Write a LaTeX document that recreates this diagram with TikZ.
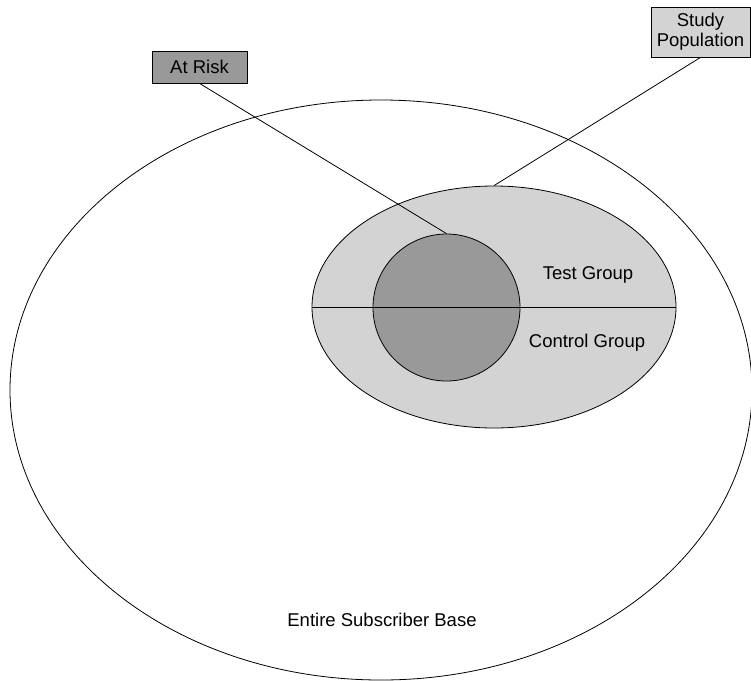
\documentclass[tikz,border=0pt]{standalone}
\usepackage{fontspec}
\setmainfont{Liberation Sans}
\usetikzlibrary{shapes.geometric}
\definecolor{lightg}{HTML}{D3D3D3}
\definecolor{darkg}{HTML}{999999}
\begin{document}
\begin{tikzpicture}[x=1pt,y=-1pt,
  outline/.style={draw=black,line width=0.8pt},
  oval/.style={outline,ellipse,inner sep=0pt},
  tag/.style={outline,rectangle,inner sep=0pt,font=\fontsize{18.5}{20}\selectfont,align=center},
  lbl/.style={font=\fontsize{18.5}{20}\selectfont,inner sep=0pt},
  link/.style={draw=black,line width=0.8pt}]
\useasboundingbox (0,0) rectangle (751,680);
\begin{scope}
\clip (0,0) rectangle (751,680);
\node[oval,minimum width=742pt,minimum height=580pt] (base) at (381,390) {};
\end{scope}
\node[oval,fill=lightg,minimum width=364pt,minimum height=242pt] (study) at (494,307) {};
\node[oval,circle,fill=darkg,minimum size=147pt] (risk) at (446.5,307.5) {};
\draw[link] (study.west) -- (study.east);
\node[tag,fill=darkg,minimum width=95pt,minimum height=32pt] (atrisk) at (199.5,67) {At Risk};
\node[tag,fill=lightg,minimum width=99pt,minimum height=50pt] (studypop) at (700.5,32) {Study\\Population};
\draw[link] (atrisk.south) -- (risk.north);
\draw[link] (studypop.south) -- (study.north);
\node[lbl] (test) at (588,275) {Test Group};
\node[lbl] (control) at (587,343) {Control Group};
\node[lbl] (entire) at (382,620) {Entire Subscriber Base};
\end{tikzpicture}
\end{document}
